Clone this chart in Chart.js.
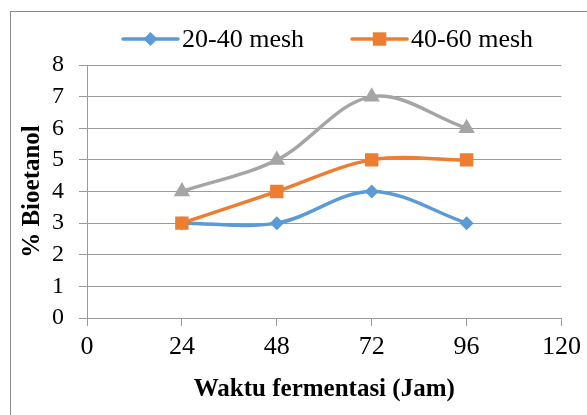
<!DOCTYPE html>
<html>
<head>
<meta charset="utf-8">
<script src="https://cdn.jsdelivr.net/npm/chart.js@4/dist/chart.umd.min.js"></script>
<style>
  html, body { margin: 0; padding: 0; background: #fff; }
  #wrap { position: relative; width: 587px; height: 415px; overflow: hidden; }
  #frame { position: absolute; left: 10px; top: 11px; width: 600px; height: 420px; border: 1px solid #8a8a8a; }
  #chart { position: absolute; left: 0; top: 0; }
</style>
</head>
<body>
<div id="wrap">
  <div id="frame"></div>
  <canvas id="chart" width="587" height="415"></canvas>
</div>
<script>
// hours of fermentation
const hours = [24, 48, 72, 96];
const xTicks = [0, 24, 48, 72, 96, 120];

const mesh2040 = [3, 3, 4, 3];
const mesh4060 = [3, 4, 5, 5];
const mesh3 = [4, 5, 7, 6];   // third series, its legend entry is cut off in the original

const seriesNames = ['20-40 mesh', '40-60 mesh', 'Series3'];
const seriesColors = ['#5B9BD5', '#ED7D31', '#A5A5A5'];
const seriesMarkers = ['rectRot', 'rect', 'triangle'];
const markerSizes = [7, 9.5, 9.5];

const serif = "'Liberation Serif', 'Times New Roman', serif";

function toPoints(ys) {
    return hours.map((h, i) => ({ x: h, y: ys[i] }));
}

const allSeries = [mesh2040, mesh4060, mesh3];
const datasets = allSeries.map((ys, i) => ({
    label: seriesNames[i],
    data: toPoints(ys),
    borderColor: seriesColors[i],
    backgroundColor: seriesColors[i],
    borderWidth: 3.5,
    borderCapStyle: 'round',
    pointStyle: seriesMarkers[i],
    pointRadius: markerSizes[i],
    pointBorderWidth: 0,
    pointHoverRadius: markerSizes[i],
    tension: 0.35,
    order: 3 - i
}));

// legend drawn by hand so the line + marker look like the office one
const officeLegend = {
    id: 'officeLegend',
    afterDraw(chart) {
        const ctx = chart.ctx;
        ctx.save();
        ctx.font = '26px ' + serif;
        ctx.textBaseline = 'alphabetic';
        ctx.fillStyle = '#000';
        let x = 123;
        const y = 39;
        for (let i = 0; i < 2; i++) {
            const ds = chart.data.datasets[i];
            ctx.strokeStyle = ds.borderColor;
            ctx.lineWidth = 3.5;
            ctx.lineCap = 'round';
            ctx.beginPath();
            ctx.moveTo(x, y);
            ctx.lineTo(x + 55, y);
            ctx.stroke();
            ctx.fillStyle = ds.backgroundColor;
            Chart.helpers.drawPoint(ctx, {
                pointStyle: ds.pointStyle,
                radius: ds.pointRadius,
                borderWidth: 0,
                rotation: 0
            }, x + 27.5, y);
            ctx.fillStyle = '#000';
            ctx.fillText(ds.label, x + 59, 47);
            x += 59 + ctx.measureText(ds.label).width + 48;
        }
        ctx.restore();
    }
};

new Chart(document.getElementById('chart'), {
    type: 'line',
    data: { datasets: datasets },
    plugins: [officeLegend],
    options: {
        responsive: false,
        animation: false,
        layout: { padding: { top: 65, right: 24, left: 0, bottom: 0 } },
        plugins: {
            legend: { display: false },
            tooltip: { enabled: false }
        },
        scales: {
            x: {
                type: 'linear',
                min: 0,
                max: 120,
                afterBuildTicks: s => { s.ticks = xTicks.map(v => ({ value: v })); },
                afterFit: s => { s.height = 97; },
                grid: { drawOnChartArea: false, drawTicks: true, tickLength: 8, color: '#9a9a9a', lineWidth: 1 },
                border: { color: '#9a9a9a', width: 1 },
                ticks: { color: '#000', font: { family: serif, size: 26 }, padding: 6, maxRotation: 0, autoSkip: false },
                title: {
                    display: true,
                    text: 'Waktu fermentasi (Jam)',
                    color: '#000',
                    font: { family: serif, size: 25, weight: 'bold' },
                    padding: { top: 0, bottom: 10 }
                }
            },
            y: {
                min: 0,
                max: 8,
                afterFit: s => { s.width = 87; },
                grid: { drawOnChartArea: true, drawTicks: true, tickLength: 8, color: '#9a9a9a', lineWidth: 1 },
                border: { color: '#9a9a9a', width: 1 },
                ticks: { stepSize: 1, autoSkip: false, color: '#000', font: { family: serif, size: 24 }, padding: 15 },
                title: {
                    display: true,
                    text: '% Bioetanol',
                    color: '#000',
                    font: { family: serif, size: 25, weight: 'bold' },
                    padding: { top: 18, bottom: 0 }
                }
            }
        }
    }
});
</script>
</body>
</html>
